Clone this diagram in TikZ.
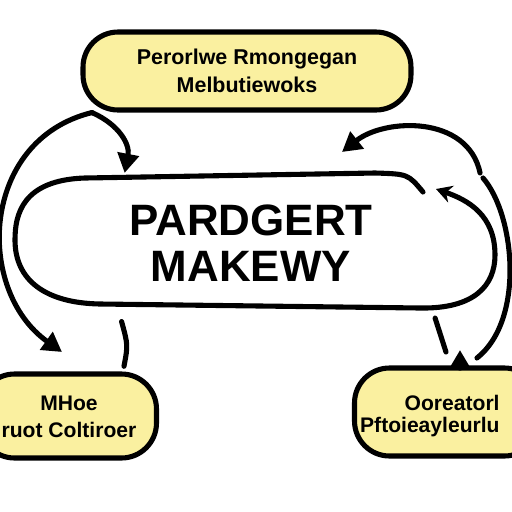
\documentclass[tikz,border=0pt]{standalone}
\usepackage{fontspec}
\setmainfont{Liberation Sans}
\usetikzlibrary{arrows.meta,calc,positioning}
\definecolor{notepad}{RGB}{250,240,160}

\begin{document}
\begin{tikzpicture}[x=0.02cm,y=-0.02cm,line width=2.9pt,line cap=round,
    note/.style={draw,fill=notepad,rounded corners=0.7cm,align=center,inner sep=0pt},
    tip/.style={-{Triangle[length=11pt,width=12pt]}},
    hook/.style={-{Stealth[length=9pt,width=10pt,inset=3pt]}}]
  \useasboundingbox (0,0) rectangle (512,512);
  % boxes
  \node[note,minimum width=6.56cm,minimum height=1.56cm,
    font=\bfseries\fontsize{12.2}{16}\selectfont] (goals) at (247,71)
    {Perorlwe Rmongegan\\Melbutiewoks};
  \node[align=center,minimum width=9.6cm,minimum height=2.7cm,
    font=\bfseries\fontsize{25}{26}\selectfont] (market) at (251,243)
    {PARDGERT\\MAKEWY};
  \node[note,minimum width=3.54cm,minimum height=1.68cm] (buyer) at (68,416) {};
  \node[font=\bfseries\fontsize{12}{15}\selectfont,align=center] (buyertext) at (69,417)
    {MHoe\\ruot Coltiroer};
  \node[note,minimum width=3.7cm,minimum height=1.76cm] (seller) at (447,412) {};
  \node[font=\bfseries\fontsize{12}{12}\selectfont,align=right,anchor=east]
    (sellertext) at (508,416) {Ooreatorl\\Pftoieayleurlu};
  % outline of the market, ending in a hook
  \draw[hook] (423,192) .. controls (408,174) .. (375,173) -- (85,178)
    .. controls (22,180) and (15,215) .. (15,240)
    .. controls (15,280) and (45,303) .. (100,304) -- (420,308)
    .. controls (475,309) and (495,285) .. (495,255)
    .. controls (495,215) and (468,200) .. (436,189);
  % free ends
  \coordinate (back) at (342,152);
  \coordinate (rtop) at (483,178);
  \coordinate (rbot) at (477,358);
  \coordinate (drop) at (446,352);
  % connectors
  \draw[tip] (goals.195) .. controls (120,125) and (130,145) .. (market.151.5);
  \draw[tip] (goals.195) .. controls (-20,140) and (-25,290) .. (62,352);
  \draw[tip] (market.17.8) .. controls (468,115) and (385,118) .. (back);
  \draw (rtop) .. controls (515,215) and (525,320) .. (rbot);
  \draw[shorten <=5pt,shorten >=3pt] (market.208.4) .. controls (128,345) .. (buyer.39.4);
  \draw[shorten <=3pt] (market.339.1) -- (drop);
  \draw[tip] (seller.north -| 460,0) -- (460,350);
\end{tikzpicture}
\end{document}
